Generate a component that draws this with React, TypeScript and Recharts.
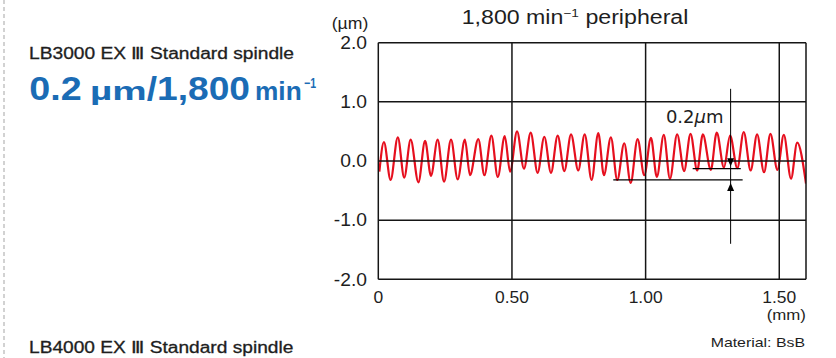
import React from "react";
import { LineChart, Line, XAxis, YAxis, ReferenceLine, ReferenceDot } from "recharts";

const SANS = '"Liberation Sans", Arial, Helvetica, sans-serif';
const INK = "#1e1e1e";
const BLUE = "#1b6cb5";
const RED = "#e60f1e";

const X_TICKS = [0, 0.5, 1.0, 1.5];
const X_TICK_LABELS = ["0", "0.50", "1.00", "1.50"];
const Y_TICKS = [-2, -1, 0, 1, 2];
const Y_TICK_LABELS = ["-2.0", "-1.0", "0.0", "1.0", "2.0"];
const X_MAX = 1.6;

// profile trace (mm, µm)
const START = { x: 0.004, y: -0.18 };
const PEAK_X = [
  0.021, 0.073, 0.121, 0.175, 0.222, 0.272, 0.324, 0.374, 0.423, 0.473, 0.519,
  0.57, 0.621, 0.671, 0.721, 0.772, 0.823, 0.87, 0.92, 0.97, 1.02, 1.068, 1.118,
  1.168, 1.214, 1.266, 1.316, 1.367, 1.417, 1.467, 1.517, 1.567,
];
const PEAK_Y = [
  0.32, 0.4, 0.36, 0.34, 0.36, 0.36, 0.36, 0.37, 0.43, 0.42, 0.5, 0.48, 0.41,
  0.43, 0.45, 0.45, 0.47, 0.4, 0.3, 0.37, 0.39, 0.44, 0.45, 0.46, 0.45, 0.48,
  0.43, 0.49, 0.45, 0.46, 0.44, 0.31,
];
const TROUGH_X = [
  0.046, 0.097, 0.15, 0.197, 0.246, 0.297, 0.343, 0.397, 0.447, 0.493, 0.545,
  0.596, 0.646, 0.696, 0.748, 0.798, 0.844, 0.894, 0.944, 0.995, 1.042, 1.091,
  1.144, 1.193, 1.244, 1.293, 1.343, 1.393, 1.443, 1.493, 1.544, 1.6,
];
const TROUGH_Y = [
  -0.32, -0.28, -0.36, -0.25, -0.35, -0.31, -0.24, -0.24, -0.27, -0.18, -0.13,
  -0.2, -0.2, -0.17, -0.16, -0.32, -0.24, -0.32, -0.37, -0.24, -0.27, -0.3,
  -0.17, -0.16, -0.15, -0.11, -0.12, -0.16, -0.19, -0.15, -0.3, -0.38,
];

// 0.2 µm marker
const MARK_X = 1.318;
const MARK_TOP = 1.22;
const MARK_BOTTOM = -1.4;
const UPPER = { y: -0.13, from: 1.176, to: 1.356 };
const LOWER = { y: -0.32, from: 0.879, to: 1.363 };
const ARROW_DOWN_TIP = -0.09;
const ARROW_UP_TIP = -0.37;
const NOTE = { x: 1.076, y: 0.637 };

const wave: { x: number; y: number }[] = [START];
PEAK_X.forEach((px, i) => {
  wave.push({ x: px, y: PEAK_Y[i] });
  wave.push({ x: TROUGH_X[i], y: TROUGH_Y[i] });
});

const XTick = (props: any) => {
  const { x, y, payload } = props;
  const label = X_TICK_LABELS[X_TICKS.indexOf(payload.value)];
  return (
    <g transform={`translate(${x},${y}) scale(1.09,1)`}>
      <text textAnchor="middle" dy="0.71em" fontSize={16} fill={INK} fontFamily={SANS}>
        {label}
      </text>
    </g>
  );
};

const YTick = (props: any) => {
  const { x, y, payload } = props;
  const label = Y_TICK_LABELS[Y_TICKS.indexOf(payload.value)];
  return (
    <g transform={`translate(${x},${y}) scale(1.1,1)`}>
      <text textAnchor="end" dy="0.355em" fontSize={17.5} fill={INK} fontFamily={SANS}>
        {label}
      </text>
    </g>
  );
};

const ArrowDown = (p: any) => (
  <path d={`M${p.cx},${p.cy} l-3.5,-8 l7,0 z`} fill="#000" />
);
const ArrowUp = (p: any) => (
  <path d={`M${p.cx},${p.cy} l-3.5,8 l7,0 z`} fill="#000" />
);
const Note = (p: any) => (
  <text x={p.cx} y={p.cy} fontSize={18} fill={INK} fontFamily='"DejaVu Sans", sans-serif'>
    0.2<tspan fontStyle="italic">µ</tspan>m
  </text>
);

const GRID = "#151515";

export default function App() {
  return (
    <div style={{ position: "absolute", left: 0, top: 0, width: 836, height: 358, background: "#fff" }}>
      <LineChart
        width={836}
        height={358}
        data={wave}
        margin={{ top: 42.7, right: 30, bottom: 48.7, left: 328.3 }}
      >
        <XAxis
          type="number"
          dataKey="x"
          domain={[0, X_MAX]}
          ticks={X_TICKS}
          height={30}
          tickSize={0}
          tickMargin={12.6}
          tickLine={false}
          axisLine={false}
          tick={<XTick />}
          allowDataOverflow
        />
        <YAxis
          type="number"
          domain={[-2, 2]}
          ticks={Y_TICKS}
          width={50}
          tickSize={0}
          tickMargin={11.3}
          tickLine={false}
          axisLine={false}
          tick={<YTick />}
          allowDataOverflow
        />
        <Line
          dataKey="y"
          type="monotone"
          stroke={RED}
          strokeWidth={2.2}
          dot={false}
          isAnimationActive={false}
        />
        {Y_TICKS.map((t) => (
          <ReferenceLine key={`h${t}`} y={t} stroke={GRID} strokeWidth={1.5} />
        ))}
        {X_TICKS.map((t) => (
          <ReferenceLine key={`v${t}`} x={t} stroke={GRID} strokeWidth={1.5} />
        ))}
        <ReferenceLine x={X_MAX} stroke={GRID} strokeWidth={1.5} />
        <ReferenceLine
          segment={[{ x: MARK_X, y: MARK_TOP }, { x: MARK_X, y: MARK_BOTTOM }]}
          stroke="#000"
          strokeWidth={1}
        />
        <ReferenceLine
          segment={[{ x: UPPER.from, y: UPPER.y }, { x: UPPER.to, y: UPPER.y }]}
          stroke="#000"
          strokeWidth={1.2}
        />
        <ReferenceLine
          segment={[{ x: LOWER.from, y: LOWER.y }, { x: LOWER.to, y: LOWER.y }]}
          stroke="#000"
          strokeWidth={1.2}
        />
        <ReferenceDot x={MARK_X} y={ARROW_DOWN_TIP} r={1} shape={<ArrowDown />} />
        <ReferenceDot x={MARK_X} y={ARROW_UP_TIP} r={1} shape={<ArrowUp />} />
        <ReferenceDot x={NOTE.x} y={NOTE.y} r={1} shape={<Note />} />
      </LineChart>

      <svg
        width={836}
        height={358}
        style={{ position: "absolute", left: 0, top: 0, pointerEvents: "none" }}
        fontFamily={SANS}
      >
        <line x1={4} y1={0} x2={4} y2={358} stroke="#b5b5b5" strokeWidth={1.2} strokeDasharray="4 3" />

        <text x={29} y={59.3} fontSize={15.8} fill={INK} stroke={INK} strokeWidth={0.3}
          textLength={265} lengthAdjust="spacingAndGlyphs">
          LB3000 EX Ⅲ Standard spindle
        </text>

        <g fill={BLUE} fontWeight={700}>
          <text x={29.3} y={100} fontSize={33} textLength={52.4} lengthAdjust="spacingAndGlyphs">0.2</text>
          <text x={90} y={100} fontSize={26.5} textLength={56.7} lengthAdjust="spacingAndGlyphs">µm</text>
          <text x={146.7} y={100} fontSize={33} textLength={103.3} lengthAdjust="spacingAndGlyphs">/1,800</text>
          <text x={255} y={100} fontSize={26.5} textLength={46.7} lengthAdjust="spacingAndGlyphs">min</text>
          <text x={304} y={88} fontSize={14} textLength={12} lengthAdjust="spacingAndGlyphs">−1</text>
        </g>

        <text x={29} y={353.3} fontSize={15.8} fill={INK} stroke={INK} strokeWidth={0.3}
          textLength={264.3} lengthAdjust="spacingAndGlyphs">
          LB4000 EX Ⅲ Standard spindle
        </text>

        <text x={331.7} y={28.5} fontSize={16.5} fill={INK} textLength={36.6} lengthAdjust="spacingAndGlyphs">
          (µm)
        </text>

        <text x={461.7} y={24} fontSize={19.5} fill={INK} textLength={226.7} lengthAdjust="spacingAndGlyphs">
          1,800 min<tspan fontSize={11.5} dy={-7}>−1</tspan>
          <tspan dy={7}> peripheral</tspan>
        </text>

        <text x={766.7} y={320} fontSize={14} fill={INK} textLength={39.3} lengthAdjust="spacingAndGlyphs">
          (mm)
        </text>

        <text x={710.7} y={347.3} fontSize={12.8} fill={INK} textLength={94.3} lengthAdjust="spacingAndGlyphs">
          Material: BsB
        </text>
      </svg>
    </div>
  );
}
